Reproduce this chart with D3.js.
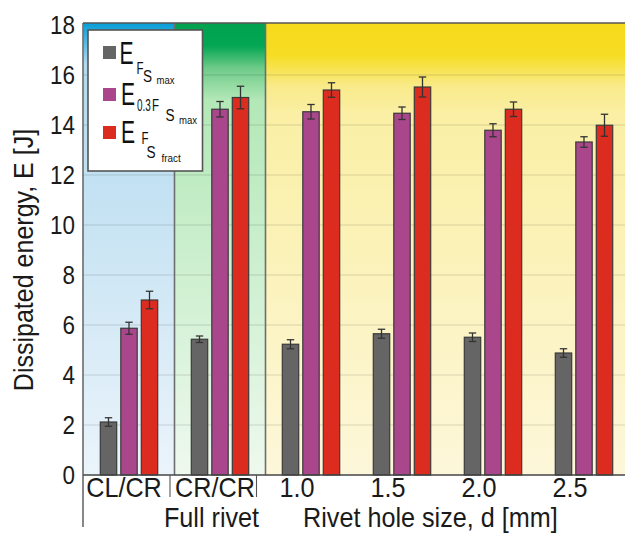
<!DOCTYPE html>
<html>
<head>
<meta charset="utf-8">
<script src="https://cdn.jsdelivr.net/npm/d3@7"></script>
<style>
  body { margin: 0; background: #fff; }
  svg { display: block; font-family: "Liberation Sans", Arial, sans-serif; }
</style>
</head>
<body>
<svg id="chart" width="625" height="544"></svg>
<script>
// categories on the x axis
const categories = ['CL/CR', 'CR/CR', '1.0', '1.5', '2.0', '2.5']
const series = ['fsMax', 'fs03Max', 'fsFract']

// dissipated energy [J] and error (+/-)
const eFsMax = [2.12, 5.43, 5.23, 5.65, 5.51, 4.88]
const eFsMaxErr = [0.17, 0.13, 0.18, 0.18, 0.17, 0.17]
const e03FsMax = [5.87, 14.63, 14.53, 14.47, 13.79, 13.32]
const e03FsMaxErr = [0.24, 0.31, 0.29, 0.25, 0.26, 0.21]
const eFsFract = [7.0, 15.1, 15.4, 15.52, 14.63, 13.99]
const eFsFractErr = [0.35, 0.45, 0.29, 0.4, 0.29, 0.44]

const yTicks = [0, 2, 4, 6, 8, 10, 12, 14, 16, 18]
const yTitle = 'Dissipated energy, E [J]'
const groupLabels = ['Full rivet', 'Rivet hole size, d [mm]']

const colors = { fsMax: '#656565', fs03Max: '#aa478c', fsFract: '#dc2b1f' }
const values = { fsMax: eFsMax, fs03Max: e03FsMax, fsFract: eFsFract }
const errors = { fsMax: eFsMaxErr, fs03Max: e03FsMaxErr, fsFract: eFsFractErr }

const svg = d3.select('#chart')
const defs = svg.append('defs')

const x0 = d3.scaleBand().domain(categories).range([83.5, 629.5])
const bw = x0.bandwidth()
const x1 = d3.scaleBand().domain(series).range([bw / 2 - 28.7, bw / 2 + 28.7]).paddingInner(0.2)
const y = d3.scaleLinear().domain([0, 18]).range([475, 25])

const plotTop = y(18) - 2
const plotBottom = y(0)

// condensed text helper (the original lettering is narrower than Arial)
const label = (parent, txt, x, yy, size, sx, anchor) => {
  return parent.append('text')
    .attr('transform', 'translate(' + x + ',' + yy + ') scale(' + sx + ',1)')
    .attr('text-anchor', anchor || 'start')
    .attr('font-size', size)
    .text(txt)
}

// background sections
const sections = [
  { id: 'gBlue', from: 'CL/CR', to: 'CL/CR',
    stops: [[0, '#049ed8'], [0.035, '#46b2e0'], [0.09, '#b3d9ee'], [0.35, '#c2e1f2'], [1, '#ebf4fb']] },
  { id: 'gGreen', from: 'CR/CR', to: 'CR/CR',
    stops: [[0, '#00a24f'], [0.05, '#02a653'], [0.1, '#6ecb88'], [0.17, '#b3e8b7'], [1, '#eef9ee']] },
  { id: 'gYellow', from: '1.0', to: '2.5',
    stops: [[0, '#f6da1c'], [0.07, '#f6dd22'], [0.14, '#f9ea8a'], [0.2, '#faefa4'], [1, '#fdf7da']] }
]

sections.forEach(s => {
  const g = defs.append('linearGradient')
    .attr('id', s.id)
    .attr('x1', 0).attr('y1', 0).attr('x2', 0).attr('y2', 1)
  s.stops.forEach(st => {
    g.append('stop').attr('offset', st[0]).attr('stop-color', st[1])
  })
  const xa = x0(s.from)
  const xb = x0(s.to) + bw
  svg.append('rect')
    .attr('x', xa)
    .attr('y', plotTop)
    .attr('width', xb - xa)
    .attr('height', plotBottom - plotTop)
    .attr('fill', 'url(#' + s.id + ')')
})

// grid
svg.append('g')
  .selectAll('line')
  .data(yTicks.filter(d => d > 0 && d < 18))
  .enter()
  .append('line')
  .attr('x1', 83).attr('x2', 625)
  .attr('y1', d => y(d)).attr('y2', d => y(d))
  .attr('stroke', '#000')
  .attr('stroke-opacity', 0.09)
  .attr('stroke-width', 1.5)

// section dividers
svg.append('g')
  .selectAll('line')
  .data(['CR/CR', '1.0'])
  .enter()
  .append('line')
  .attr('x1', d => x0(d)).attr('x2', d => x0(d))
  .attr('y1', plotTop).attr('y2', plotBottom)
  .attr('stroke', '#6e6e6e')
  .attr('stroke-width', 1.6)

// bars
const groups = svg.append('g')
  .selectAll('g')
  .data(categories)
  .enter()
  .append('g')
  .attr('transform', d => 'translate(' + x0(d) + ',0)')

groups.selectAll('rect')
  .data((c, i) => series.map(s => ({ s, v: values[s][i], e: errors[s][i] })))
  .enter()
  .append('rect')
  .attr('x', d => x1(d.s))
  .attr('y', d => y(d.v))
  .attr('width', x1.bandwidth())
  .attr('height', d => y(0) - y(d.v))
  .attr('fill', d => colors[d.s])
  .attr('stroke', '#3a3a3a')
  .attr('stroke-width', 1.2)

// error bars
const eb = groups.selectAll('g.err')
  .data((c, i) => series.map(s => ({ s, v: values[s][i], e: errors[s][i] })))
  .enter()
  .append('g')
  .attr('class', 'err')
  .attr('stroke', '#333')
  .attr('stroke-width', 1.3)

eb.append('line')
  .attr('x1', d => x1(d.s) + x1.bandwidth() / 2)
  .attr('x2', d => x1(d.s) + x1.bandwidth() / 2)
  .attr('y1', d => y(d.v + d.e))
  .attr('y2', d => y(d.v - d.e))
eb.append('line')
  .attr('x1', d => x1(d.s) + x1.bandwidth() / 2 - 3.7)
  .attr('x2', d => x1(d.s) + x1.bandwidth() / 2 + 3.7)
  .attr('y1', d => y(d.v + d.e))
  .attr('y2', d => y(d.v + d.e))
eb.append('line')
  .attr('x1', d => x1(d.s) + x1.bandwidth() / 2 - 3.7)
  .attr('x2', d => x1(d.s) + x1.bandwidth() / 2 + 3.7)
  .attr('y1', d => y(d.v - d.e))
  .attr('y2', d => y(d.v - d.e))

// frame
svg.append('line')
  .attr('x1', 83).attr('x2', 625).attr('y1', plotTop).attr('y2', plotTop)
  .attr('stroke', '#555').attr('stroke-width', 1.6)
svg.append('line')
  .attr('x1', 83).attr('x2', 625).attr('y1', plotBottom).attr('y2', plotBottom)
  .attr('stroke', '#444').attr('stroke-width', 1.4)
svg.append('line')
  .attr('x1', 83).attr('x2', 83).attr('y1', plotTop).attr('y2', 527)
  .attr('stroke', '#555').attr('stroke-width', 1.4)
// separators under the axis
svg.append('g')
  .selectAll('line')
  .data([['CR/CR', -4.5], ['1.0', -9]])
  .enter()
  .append('line')
  .attr('x1', d => x0(d[0]) + d[1]).attr('x2', d => x0(d[0]) + d[1])
  .attr('y1', plotBottom).attr('y2', 497)
  .attr('stroke', '#555').attr('stroke-width', 1.1)

// y axis labels
const txt = svg.append('g').attr('fill', '#1a1a1a')
yTicks.forEach(d => {
  label(txt, d, 75, y(d) + 9, 25.5, 0.88, 'end')
})

txt.append('text')
  .attr('transform', 'translate(33,260) rotate(-90) scale(0.91,1)')
  .attr('text-anchor', 'middle')
  .attr('font-size', 27.5)
  .text(yTitle)

// x labels
categories.forEach((d, i) => {
  label(txt, d, x0(d) + bw / 2 + (i < 2 ? -5 : -14), 497, 28, 0.9, 'middle')
})
label(txt, groupLabels[0], x0('CR/CR') + bw / 2 - 8.5, 527, 28, 0.9, 'middle')
label(txt, groupLabels[1], x0('1.0') + 37.5, 527, 28, 0.9, 'start')

// legend
const lg = svg.append('g').attr('fill', '#111')
lg.append('rect')
  .attr('x', 88).attr('y', 30).attr('width', 114.5).attr('height', 141)
  .attr('fill', '#fff').attr('stroke', '#555').attr('stroke-width', 1.6)

const legendRows = [
  { s: 'fsMax', sq: 46, parts: [['E', 119.5, 63.5, 31, 0.68], ['F', 136.5, 73.5, 17, 0.68], ['S', 143, 81.5, 17, 0.8], ['max', 156.5, 84, 11.5, 0.83]] },
  { s: 'fs03Max', sq: 88, parts: [['E', 121, 105, 31, 0.68], ['0.3', 137, 111, 16, 0.62], ['F', 152, 111, 17, 0.68], ['S', 165.5, 120.5, 17, 0.8], ['max', 179, 124, 11.5, 0.83]] },
  { s: 'fsFract', sq: 126, parts: [['E', 121, 143, 31, 0.68], ['F', 141.5, 144, 17, 0.68], ['S', 146.5, 157.5, 17, 0.8], ['fract', 161.5, 162, 11.5, 0.86]] }
]

legendRows.forEach(r => {
  lg.append('rect')
    .attr('x', 103).attr('y', r.sq).attr('width', 13).attr('height', 13)
    .attr('fill', colors[r.s])
  r.parts.forEach(p => {
    label(lg, p[0], p[1], p[2], p[3], p[4])
  })
})
</script>
</body>
</html>
